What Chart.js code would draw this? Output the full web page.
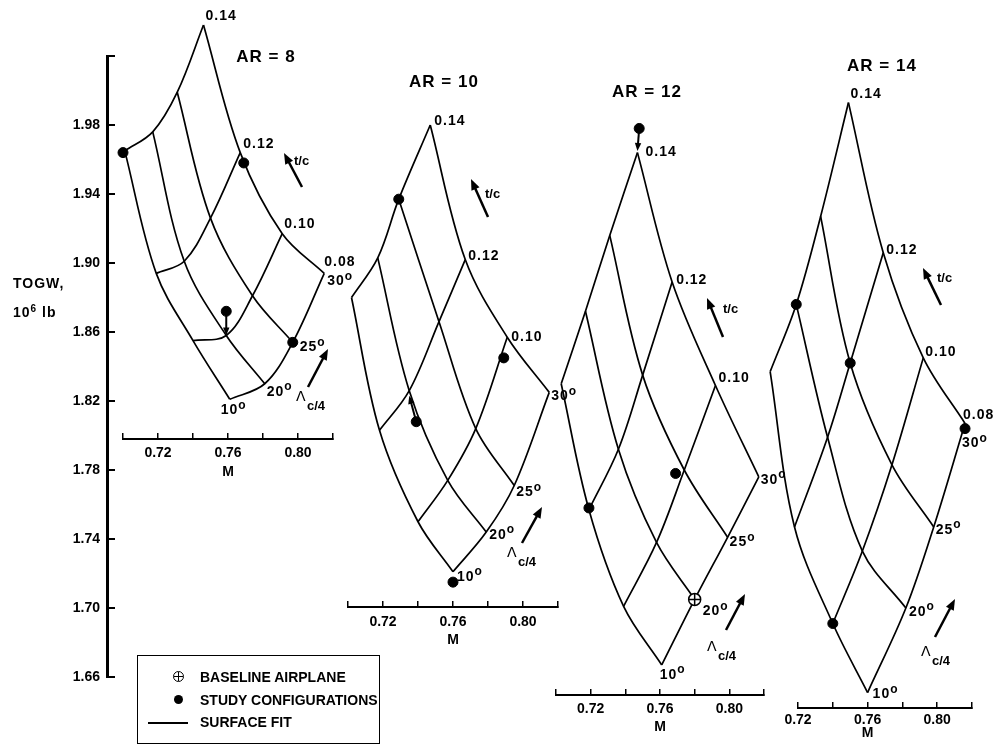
<!DOCTYPE html>
<html>
<head>
<meta charset="utf-8">
<script src="https://cdn.jsdelivr.net/npm/chart.js@4.4.1/dist/chart.umd.min.js"></script>
<style>
  html, body { margin: 0; padding: 0; background: #fff; }
  #stage { position: relative; width: 995px; height: 744px; overflow: hidden;
           font-family: 'Liberation Sans', Arial, sans-serif; font-weight: bold; color: #000; }
  #stage canvas { position: absolute; left: 0; top: 0; }
  .ytitle { position: absolute; left: 13px; font-size: 14px; letter-spacing: 1px; line-height: 16px; }
  .ytitle sup { font-size: 10px; vertical-align: 5px; line-height: 0; }
  #legend { position: absolute; left: 137px; top: 655px; width: 243px; height: 89px;
            border: 1.5px solid #000; box-sizing: border-box; }
  #legend .row { position: absolute; left: 62px; font-size: 14px; line-height: 16px; white-space: nowrap; }
  #legend .sym { position: absolute; }
  .plus { width: 11px; height: 11px; border: 1.5px solid #000; border-radius: 50%; box-sizing: border-box; }
  .plus::before, .plus::after { content: ''; position: absolute; background: #000; }
  .plus::before { left: 0; right: 0; top: 3.5px; height: 1.5px; }
  .plus::after { top: 0; bottom: 0; left: 3.5px; width: 1.5px; }
  .dot { width: 9px; height: 9px; border-radius: 50%; background: #000; }
  .dash { width: 40px; height: 1.5px; background: #000; }
</style>
</head>
<body>
<div id="stage">
  <canvas id="yAxis" width="995" height="744"></canvas>
  <canvas id="ar8" width="995" height="744"></canvas>
  <canvas id="ar10" width="995" height="744"></canvas>
  <canvas id="ar12" width="995" height="744"></canvas>
  <canvas id="ar14" width="995" height="744"></canvas>
  <div class="ytitle" style="top:275px">TOGW,</div>
  <div class="ytitle" style="top:304px">10<sup>6</sup> lb</div>
  <div id="legend">
    <div class="sym plus" style="left:35px; top:15px"></div>
    <div class="row" style="top:13px">BASELINE AIRPLANE</div>
    <div class="sym dot" style="left:36px; top:39px"></div>
    <div class="row" style="top:36px">STUDY CONFIGURATIONS</div>
    <div class="sym dash" style="left:10px; top:66px"></div>
    <div class="row" style="top:58px">SURFACE FIT</div>
  </div>
</div>
<script>
// 共通の軸
const tcValues = [0.08, 0.10, 0.12, 0.14];
const sweepValues = [10, 20, 25, 30];
const togwTicks = [1.66, 1.70, 1.74, 1.78, 1.82, 1.86, 1.90, 1.94, 1.98, 2.02];
const togwTickLabels = ['1.66', '1.70', '1.74', '1.78', '1.82', '1.86', '1.90', '1.94', '1.98', ''];
const machTicks = [0.70, 0.72, 0.74, 0.76, 0.78, 0.80, 0.82];
const machTickLabels = ['', '0.72', '', '0.76', '', '0.80', ''];

// AR = 8 (行: t/c 0.08→0.14, 列: 後退角 10°, 20°, 25°, 30°)
const ar8Mach = [
  [0.761, 0.781, 0.797, 0.815],
  [0.740, 0.759, 0.774, 0.791],
  [0.719, 0.735, 0.750, 0.767],
  [0.701, 0.717, 0.731, 0.746]
];
const ar8Togw = [
  [1.821, 1.830, 1.854, 1.894],
  [1.855, 1.858, 1.881, 1.917],
  [1.894, 1.901, 1.926, 1.964],
  [1.965, 1.976, 1.999, 2.038]
];
const ar8StudyMach = [0.700, 0.769, 0.759, 0.797];
const ar8StudyTogw = [1.964, 1.958, 1.872, 1.854];
const ar8ShiftMach = [0.759, 0.759];
const ar8ShiftTogw = [1.872, 1.858];
const ar8TcLabels = ['0.08', '0.10', '0.12', '0.14'];

// AR = 10
const ar10Mach = [
  [0.760, 0.779, 0.795, 0.815],
  [0.740, 0.757, 0.773, 0.791],
  [0.718, 0.735, 0.752, 0.767],
  [0.702, 0.717, 0.729, 0.747]
];
const ar10Togw = [
  [1.721, 1.744, 1.771, 1.825],
  [1.750, 1.774, 1.804, 1.857],
  [1.803, 1.826, 1.866, 1.902],
  [1.880, 1.903, 1.937, 1.980]
];
const ar10StudyMach = [0.729, 0.789, 0.739, 0.760];
const ar10StudyTogw = [1.937, 1.845, 1.808, 1.715];
const ar10ShiftMach = [0.739, 0.735];
const ar10ShiftTogw = [1.808, 1.823];
const ar10TcLabels = ['', '0.10', '0.12', '0.14'];

// AR = 12
const ar12Mach = [
  [0.761, 0.780, 0.799, 0.817],
  [0.739, 0.758, 0.774, 0.792],
  [0.719, 0.736, 0.750, 0.767],
  [0.703, 0.717, 0.731, 0.747]
];
const ar12Togw = [
  [1.667, 1.705, 1.741, 1.776],
  [1.701, 1.738, 1.780, 1.829],
  [1.757, 1.792, 1.835, 1.889],
  [1.830, 1.872, 1.916, 1.964]
];
const ar12StudyMach = [0.748, 0.719, 0.769];
const ar12StudyTogw = [1.978, 1.758, 1.778];
const ar12ShiftMach = [0.748, 0.747];
const ar12ShiftTogw = [1.978, 1.965];
const ar12BaseMach = [0.780];
const ar12BaseTogw = [1.705];
const ar12TcLabels = ['', '0.10', '0.12', '0.14'];

// AR = 14
const ar14Mach = [
  [0.760, 0.782, 0.798, 0.816],
  [0.740, 0.757, 0.774, 0.792],
  [0.718, 0.737, 0.750, 0.769],
  [0.704, 0.719, 0.733, 0.749]
];
const ar14Togw = [
  [1.651, 1.700, 1.747, 1.807],
  [1.691, 1.733, 1.783, 1.845],
  [1.747, 1.799, 1.842, 1.906],
  [1.837, 1.876, 1.927, 1.993]
];
const ar14StudyMach = [0.719, 0.750, 0.816, 0.740];
const ar14StudyTogw = [1.876, 1.842, 1.804, 1.691];
const ar14TcLabels = ['0.08', '0.10', '0.12', '0.14'];

// 配置 (ピクセル)
const W = 995, H = 744;
const TOP_PX = 56, TOP_TOGW = 2.02, PX_PER_TOGW = 1725;
const FONT = '"Liberation Sans", Arial, sans-serif';

Chart.defaults.color = '#000';
Chart.defaults.font.family = FONT;
Chart.defaults.font.weight = 'bold';
Chart.defaults.font.size = 14;

const panels = [
  {
    id: 'ar8', title: 'AR = 8', mach: ar8Mach, togw: ar8Togw,
    studyM: ar8StudyMach, studyW: ar8StudyTogw, shiftM: ar8ShiftMach, shiftW: ar8ShiftTogw,
    tcLabels: ar8TcLabels,
    axisLeft: 123, axisRight: 333, axisY: 439, machMin: 0.70, labelGap: 14, mGap: 19,
    titlePos: [266, 57],
    tcOff: [[0, -11], [2, -10], [3, -8], [2, -9]],
    sweepOff: [[-9, 11], [2, 8], [7, 5], [3, 8]],
    tcArrow: [302, 187, 284, 153], tcText: [294, 161],
    lamArrow: [308, 387, 328, 349], lamText: [296, 397]
  },
  {
    id: 'ar10', title: 'AR = 10', mach: ar10Mach, togw: ar10Togw,
    studyM: ar10StudyMach, studyW: ar10StudyTogw, shiftM: ar10ShiftMach, shiftW: ar10ShiftTogw,
    tcLabels: ar10TcLabels,
    axisLeft: 348, axisRight: 558, axisY: 607, machMin: 0.70, labelGap: 15, mGap: 18,
    titlePos: [444, 82],
    tcOff: [[0, 0], [4, 0], [3, -3], [4, -4]],
    sweepOff: [[4, 5], [3, 3], [2, 7], [2, 4]],
    tcArrow: [488, 217, 471, 179], tcText: [485, 194],
    lamArrow: [522, 543, 542, 507], lamText: [507, 553]
  },
  {
    id: 'ar12', title: 'AR = 12', mach: ar12Mach, togw: ar12Togw,
    studyM: ar12StudyMach, studyW: ar12StudyTogw, shiftM: ar12ShiftMach, shiftW: ar12ShiftTogw,
    baseM: ar12BaseMach, baseW: ar12BaseTogw,
    tcLabels: ar12TcLabels,
    axisLeft: 556, axisRight: 764, axisY: 695, machMin: 0.70, labelGap: 14, mGap: 18,
    titlePos: [647, 92],
    tcOff: [[0, 0], [3, -7], [4, -2], [8, 0]],
    sweepOff: [[-2, 10], [8, 12], [2, 5], [2, 3]],
    tcArrow: [723, 337, 707, 298], tcText: [723, 309],
    lamArrow: [726, 630, 745, 594], lamText: [707, 647]
  },
  {
    id: 'ar14', title: 'AR = 14', mach: ar14Mach, togw: ar14Togw,
    studyM: ar14StudyMach, studyW: ar14StudyTogw,
    tcLabels: ar14TcLabels,
    axisLeft: 798, axisRight: 972, axisY: 708, machMin: 0.72, labelGap: 12, mGap: 13,
    titlePos: [882, 66],
    tcOff: [[-2, -8], [2, -6], [3, -3], [2, -8]],
    sweepOff: [[5, 2], [3, 4], [2, 3], [-3, 20]],
    tcArrow: [941, 305, 923, 268], tcText: [937, 278],
    lamArrow: [935, 637, 955, 599], lamText: [921, 652]
  }
];

// 矢印
function drawArrow(ctx, x1, y1, x2, y2, width, head) {
  const a = Math.atan2(y2 - y1, x2 - x1);
  const c = Math.cos(a), s = Math.sin(a);
  ctx.lineWidth = width;
  ctx.beginPath();
  ctx.moveTo(x1, y1);
  ctx.lineTo(x2 - c * head * 0.8, y2 - s * head * 0.8);
  ctx.stroke();
  ctx.beginPath();
  ctx.moveTo(x2, y2);
  ctx.lineTo(x2 - head * c + head * 0.4 * s, y2 - head * s - head * 0.4 * c);
  ctx.lineTo(x2 - head * c - head * 0.4 * s, y2 - head * s + head * 0.4 * c);
  ctx.closePath();
  ctx.fill();
}

// 上付き o 付きの角度ラベル
function drawDegree(ctx, text, x, y) {
  ctx.font = 'bold 14px ' + FONT;
  ctx.textAlign = 'left';
  ctx.textBaseline = 'middle';
  ctx.fillText(text, x, y);
  const w = ctx.measureText(text).width;
  ctx.font = 'bold 12px ' + FONT;
  ctx.fillText('o', x + w, y - 5);
}

// 注記プラグイン
const notesPlugin = {
  id: 'notes',
  afterDatasetsDraw(chart, args, opts) {
    const p = opts.panel;
    if (!p) return;
    const { ctx, scales: { x, y } } = chart;
    ctx.save();
    ctx.fillStyle = '#000';
    ctx.strokeStyle = '#000';
    ctx.letterSpacing = '1px';

    // t/c ラベル (30° の節点)
    ctx.textAlign = 'left';
    ctx.textBaseline = 'middle';
    p.tcLabels.forEach((label, i) => {
      if (!label) return;
      const nx = x.getPixelForValue(p.mach[i][3]);
      const ny = y.getPixelForValue(p.togw[i][3]);
      ctx.font = 'bold 14px ' + FONT;
      ctx.fillText(label, nx + p.tcOff[i][0], ny + p.tcOff[i][1]);
    });

    // 後退角ラベル (t/c = 0.08 の節点)
    sweepValues.forEach((s, j) => {
      const nx = x.getPixelForValue(p.mach[0][j]);
      const ny = y.getPixelForValue(p.togw[0][j]);
      drawDegree(ctx, String(s), nx + p.sweepOff[j][0], ny + p.sweepOff[j][1]);
    });

    // 設計点の移動矢印
    if (p.shiftM) {
      drawArrow(ctx,
        x.getPixelForValue(p.shiftM[0]), y.getPixelForValue(p.shiftW[0]),
        x.getPixelForValue(p.shiftM[1]), y.getPixelForValue(p.shiftW[1]), 2, 8);
    }

    // タイトル
    ctx.letterSpacing = '1px';
    ctx.font = 'bold 17px ' + FONT;
    ctx.textAlign = 'center';
    ctx.fillText(p.title, p.titlePos[0], p.titlePos[1]);

    // t/c 方向
    const ta = p.tcArrow;
    drawArrow(ctx, ta[0], ta[1], ta[2], ta[3], 2.5, 11);
    ctx.font = 'bold 13px ' + FONT;
    ctx.textAlign = 'left';
    ctx.letterSpacing = '0px';
    ctx.fillText('t/c', p.tcText[0], p.tcText[1]);

    // Λc/4 方向
    const la = p.lamArrow;
    drawArrow(ctx, la[0], la[1], la[2], la[3], 2.5, 11);
    ctx.font = '14px "DejaVu Sans", ' + FONT;
    ctx.fillText('\u039B', p.lamText[0], p.lamText[1]);
    ctx.font = 'bold 13px ' + FONT;
    ctx.fillText('c/4', p.lamText[0] + 11, p.lamText[1] + 9);

    ctx.restore();
  }
};

function lineSet(points) {
  return {
    data: points, showLine: true, clip: false,
    borderColor: '#000', borderWidth: 1.7, pointRadius: 0, tension: 0.35
  };
}

function carpetDatasets(p) {
  const sets = [];
  // 一定 t/c の線
  p.mach.forEach((row, i) => {
    sets.push(lineSet(row.map((m, j) => ({ x: m, y: p.togw[i][j] }))));
  });
  // 一定後退角の線
  sweepValues.forEach((s, j) => {
    sets.push(lineSet(p.mach.map((row, i) => ({ x: row[j], y: p.togw[i][j] }))));
  });
  return sets;
}

function machLabel(v) {
  const k = machTicks.findIndex(t => Math.abs(t - v) < 1e-6);
  const label = k === -1 ? '' : machTickLabels[k];
  return label === '0.76' ? ['0.76', 'M'] : label;
}

// TOGW 軸
new Chart(document.getElementById('yAxis'), {
  type: 'scatter',
  data: { datasets: [] },
  options: {
    responsive: false, animation: false, events: [],
    layout: { padding: { left: 47, right: 20, top: TOP_PX, bottom: H - 677 } },
    plugins: { legend: { display: false }, tooltip: { enabled: false } },
    scales: {
      x: { display: false, min: 0, max: 1 },
      y: {
        min: 1.66, max: 2.02, position: 'left',
        afterBuildTicks: axis => { axis.ticks = togwTicks.map(v => ({ value: v })); },
        ticks: {
          padding: 15, font: { size: 14, weight: 'bold' },
          callback: (v) => {
            const k = togwTicks.findIndex(t => Math.abs(t - v) < 1e-6);
            return k === -1 ? '' : togwTickLabels[k];
          }
        },
        grid: { drawOnChartArea: false, tickLength: -8, color: '#000', lineWidth: 2 },
        border: { color: '#000', width: 3 },
        afterFit: s => { s.width = 60; s.paddingTop = 0; s.paddingBottom = 0; }
      }
    }
  }
});

// 各 AR のカーペット図
panels.forEach(p => {
  const xAxisH = Math.min(46, H - p.axisY);
  const datasets = [];
  datasets.push({
    data: p.studyM.map((m, i) => ({ x: m, y: p.studyW[i] })),
    pointRadius: 5, pointBackgroundColor: '#000', pointBorderColor: '#000', clip: false
  });
  if (p.baseM) {
    const pts = p.baseM.map((m, i) => ({ x: m, y: p.baseW[i] }));
    datasets.push({ data: pts, pointStyle: 'cross', pointRadius: 6, pointBorderColor: '#000', pointBorderWidth: 1.5, clip: false });
    datasets.push({ data: pts, pointStyle: 'circle', pointRadius: 6, pointBackgroundColor: '#fff', pointBorderColor: '#000', pointBorderWidth: 1.5, clip: false });
  }
  datasets.push(...carpetDatasets(p));

  new Chart(document.getElementById(p.id), {
    type: 'scatter',
    data: { datasets },
    plugins: [notesPlugin],
    options: {
      responsive: false, animation: false, events: [],
      layout: { padding: { left: p.axisLeft, right: W - p.axisRight, top: TOP_PX, bottom: H - p.axisY - xAxisH } },
      elements: { line: { capBezierPoints: false } },
      plugins: { legend: { display: false }, tooltip: { enabled: false }, notes: { panel: p } },
      scales: {
        x: {
          type: 'linear', position: 'bottom', bounds: 'data',
          // min/max はここで固定 (軸外の点が間引かれないように)
          afterDataLimits: s => { s.min = p.machMin; s.max = 0.82; },
          afterBuildTicks: axis => {
            axis.ticks = machTicks.filter(v => v >= p.machMin - 1e-6).map(v => ({ value: v }));
          },
          ticks: {
            autoSkip: false, maxRotation: 0,
            padding: p.labelGap + 6 - p.mGap / 2,
            font: { size: 14, weight: 'bold', lineHeight: p.mGap + 'px' },
            callback: v => machLabel(v)
          },
          grid: { drawOnChartArea: false, tickLength: -6, color: '#000', lineWidth: 1.5 },
          border: { color: '#000', width: 2 },
          afterFit: s => { s.height = xAxisH; s.paddingLeft = 0; s.paddingRight = 0; }
        },
        y: {
          display: false,
          min: TOP_TOGW - (p.axisY - TOP_PX) / PX_PER_TOGW,
          max: TOP_TOGW
        }
      }
    }
  });
});
</script>
</body>
</html>
